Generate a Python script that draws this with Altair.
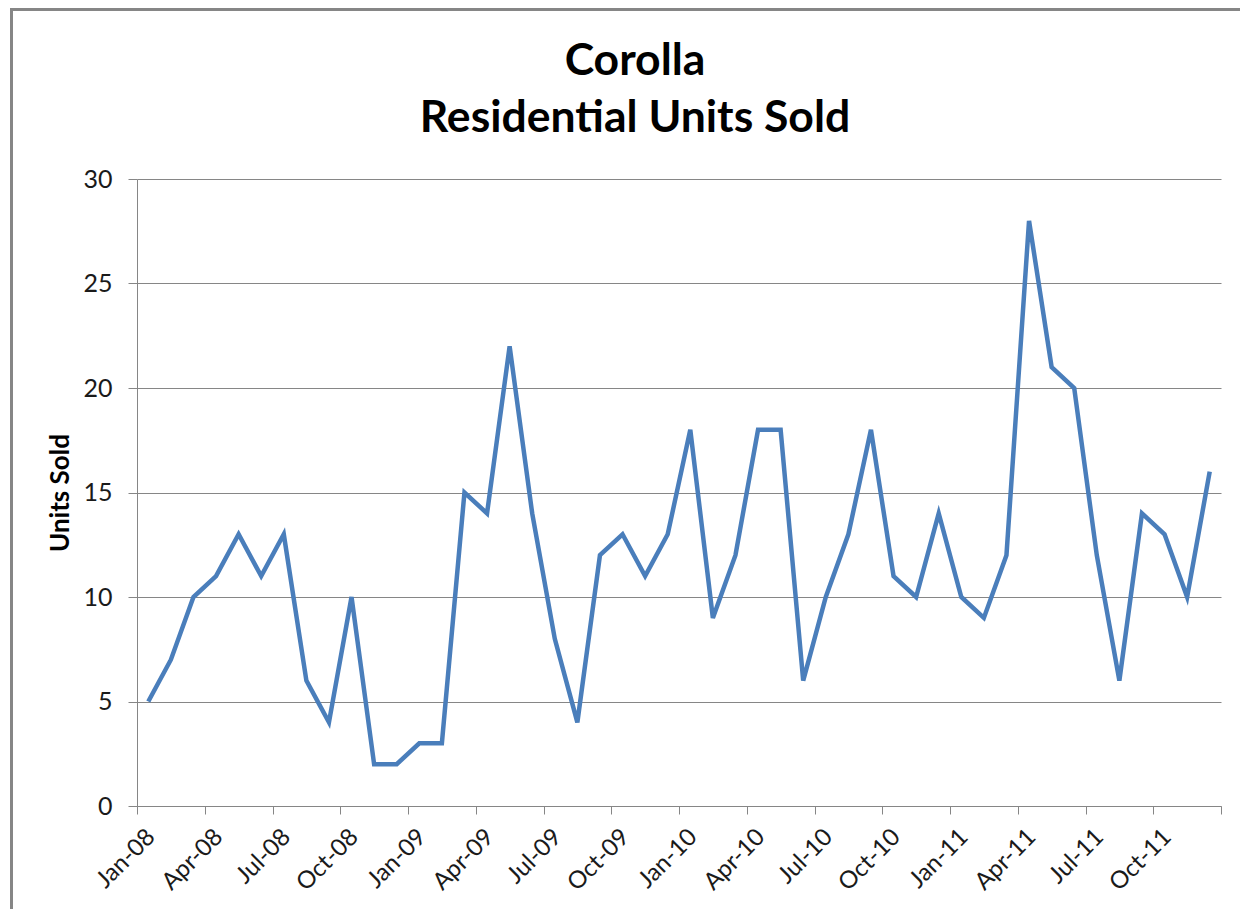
import altair as alt
import pandas as pd

months = [f"{m}-{y}" for y in ["08", "09", "10", "11"]
          for m in ["Jan", "Feb", "Mar", "Apr", "May", "Jun",
                    "Jul", "Aug", "Sep", "Oct", "Nov", "Dec"]]
units = [5, 7, 10, 11, 13, 11, 13, 6, 4, 10, 2, 2,
         3, 3, 15, 14, 22, 14, 8, 4, 12, 13, 11, 13,
         18, 9, 12, 18, 18, 6, 10, 13, 18, 11, 10, 14,
         10, 9, 12, 28, 21, 20, 12, 6, 14, 13, 10, 16]
tick_labels = months[::3]
y_ticks = [0, 5, 10, 15, 20, 25, 30]
title_lines = ["Corolla", "Residential Units Sold"]

df = pd.DataFrame({"month": months, "units": units,
                   "pos": [i + 0.5 for i in range(len(months))]})

label_array = "[" + ",".join(f"'{t}'" for t in tick_labels) + "]"
label_expr = f"datum.value < {len(months)} ? {label_array}[datum.value / 3] : ''"

FONT = "Lato"
GRAY = "#868686"

line = alt.Chart(df).mark_line(color="#4a7ebb", strokeWidth=4.5, strokeJoin="miter").encode(
    x=alt.X("pos:Q",
            scale=alt.Scale(domain=[0, len(months)], nice=False, zero=False),
            axis=alt.Axis(values=list(range(0, len(months) + 1, 3)),
                          labelExpr=label_expr, title=None, grid=False,
                          labelAngle=-45, labelAlign="right", labelBaseline="middle",
                          labelOffset=14, labelPadding=19, tickSize=8,
                          labelOverlap=False, labelBound=False, labelFlush=False,
                          tickColor=GRAY, domainColor=GRAY,
                          labelFont=FONT, labelFontSize=24, labelColor="#1a1a1a")),
    y=alt.Y("units:Q",
            scale=alt.Scale(domain=[0, 30], nice=False),
            axis=alt.Axis(values=y_ticks, title="Units Sold", grid=True,
                          gridColor=GRAY, tickColor=GRAY, domainColor=GRAY,
                          tickSize=9, labelPadding=16,
                          labelFont=FONT, labelFontSize=25, labelColor="#1a1a1a",
                          titleFont=FONT, titleFontSize=26, titleFontWeight="bold",
                          titleColor="#000000", titlePadding=9)),
)

frame_top = alt.Chart(df).mark_rule(color=GRAY, strokeWidth=3).encode(
    x=alt.value(-127), x2=alt.value(1120), y=alt.value(-169.5))
frame_left = alt.Chart(df).mark_rule(color=GRAY, strokeWidth=3).encode(
    x=alt.value(-125.5), y=alt.value(-171), y2=alt.value(740))

title_df = pd.DataFrame({"line": title_lines})
title_1 = alt.Chart(title_df).transform_filter(alt.datum.line == title_lines[0]).mark_text(
    font=FONT, fontSize=44.5, fontWeight="bold", color="#000000",
    align="center", baseline="alphabetic").encode(
    text="line:N", x=alt.value(498), y=alt.value(-104))
title_2 = alt.Chart(title_df).transform_filter(alt.datum.line == title_lines[1]).mark_text(
    font=FONT, fontSize=44.5, fontWeight="bold", color="#000000",
    align="center", baseline="alphabetic").encode(
    text="line:N", x=alt.value(498), y=alt.value(-47))

chart = alt.layer(frame_top, frame_left, title_1, title_2, line).properties(
    width=1084, height=627,
    autosize=alt.AutoSizeParams(type="none"),
    padding={"left": 129, "top": 171, "right": 19, "bottom": 103},
).configure_view(stroke=None)

chart.save("out.html", embed_options={"renderer": "svg", "actions": False})
